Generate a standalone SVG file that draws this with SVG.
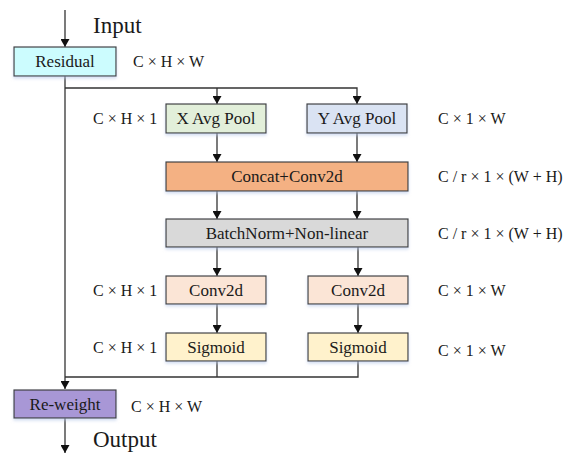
<svg xmlns="http://www.w3.org/2000/svg" width="568" height="454" viewBox="0 0 568 454">
<style>
.box{stroke:#404040;stroke-width:1.2}
.t{font-family:'Liberation Serif','Tinos','DejaVu Serif',serif;font-size:17px;fill:#1a1a1a;text-anchor:middle}
.l{font-family:'Liberation Serif','Tinos','DejaVu Serif',serif;font-size:16px;fill:#1a1a1a}
.big{font-family:'Liberation Serif','Tinos','DejaVu Serif',serif;font-size:23px;fill:#1a1a1a}
.c{stroke:#333;stroke-width:1.3;fill:none}
</style>
<defs>
<marker id="ah" markerWidth="8" markerHeight="9" refX="8" refY="4.5" orient="auto" markerUnits="userSpaceOnUse">
<path d="M0,0 L8,4.5 L0,9 Z" fill="#111"/>
</marker>
<filter id="sh" x="-10%" y="-10%" width="120%" height="140%">
<feDropShadow dx="0" dy="2" stdDeviation="1.5" flood-color="#b8c8e8" flood-opacity="0.6"/>
</filter>
</defs>
<g id="connectors">
<line class="c" x1="65" y1="10" x2="65" y2="47" marker-end="url(#ah)"/>
<line class="c" x1="65" y1="76" x2="65" y2="389" marker-end="url(#ah)"/>
<polyline class="c" points="65,88 357,88 357,104" marker-end="url(#ah)"/>
<line class="c" x1="217" y1="88" x2="217" y2="104" marker-end="url(#ah)"/>
<line class="c" x1="217" y1="133" x2="217" y2="162" marker-end="url(#ah)"/>
<line class="c" x1="357" y1="133" x2="357" y2="162" marker-end="url(#ah)"/>
<line class="c" x1="217" y1="191" x2="217" y2="219" marker-end="url(#ah)"/>
<line class="c" x1="357" y1="191" x2="357" y2="219" marker-end="url(#ah)"/>
<line class="c" x1="217" y1="247" x2="217" y2="276" marker-end="url(#ah)"/>
<line class="c" x1="358" y1="247" x2="358" y2="276" marker-end="url(#ah)"/>
<line class="c" x1="217" y1="304" x2="217" y2="333" marker-end="url(#ah)"/>
<line class="c" x1="358" y1="304" x2="358" y2="333" marker-end="url(#ah)"/>
<polyline class="c" points="217,361 217,377"/>
<polyline class="c" points="358,361 358,377 65,377"/>
<line class="c" x1="65" y1="418" x2="65" y2="453" marker-end="url(#ah)"/>
</g>
<g id="residual">
<rect class="box" x="14" y="47" width="102" height="29" fill="#ccfcfe" filter="url(#sh)"/>
<text class="t" x="65" y="67">Residual</text>
</g>
<g id="xpool">
<rect class="box" x="166" y="104" width="100" height="29" fill="#e2efda" filter="url(#sh)"/>
<text class="t" x="216" y="124">X Avg Pool</text>
</g>
<g id="ypool">
<rect class="box" x="307" y="104" width="100" height="29" fill="#dae3f3" filter="url(#sh)"/>
<text class="t" x="357" y="124">Y Avg Pool</text>
</g>
<g id="concat">
<rect class="box" x="166" y="162" width="242" height="29" fill="#f4b183" filter="url(#sh)"/>
<text class="t" x="287" y="182">Concat+Conv2d</text>
</g>
<g id="batchnorm">
<rect class="box" x="166" y="219" width="242" height="28" fill="#d9d9d9" filter="url(#sh)"/>
<text class="t" x="287" y="239">BatchNorm+Non-linear</text>
</g>
<g id="conv2d-left">
<rect class="box" x="166" y="276" width="100" height="28" fill="#fbe5d6" filter="url(#sh)"/>
<text class="t" x="216" y="296">Conv2d</text>
</g>
<g id="conv2d-right">
<rect class="box" x="308" y="276" width="100" height="28" fill="#fbe5d6" filter="url(#sh)"/>
<text class="t" x="358" y="296">Conv2d</text>
</g>
<g id="sigmoid-left">
<rect class="box" x="166" y="333" width="100" height="28" fill="#fff2cc" filter="url(#sh)"/>
<text class="t" x="216" y="353">Sigmoid</text>
</g>
<g id="sigmoid-right">
<rect class="box" x="308" y="333" width="100" height="28" fill="#fff2cc" filter="url(#sh)"/>
<text class="t" x="358" y="353">Sigmoid</text>
</g>
<g id="reweight">
<rect class="box" x="14" y="390" width="102" height="28" fill="#a897d6" filter="url(#sh)"/>
<text class="t" x="65" y="410">Re-weight</text>
</g>
<g id="labels">
<text class="big" x="93" y="33">Input</text>
<text class="big" x="93" y="447">Output</text>
<text class="l" x="133" y="67">C × H × W</text>
<text class="l" x="131" y="412">C × H × W</text>
<text class="l" x="93" y="124">C × H × 1</text>
<text class="l" x="438" y="124">C × 1 × W</text>
<text class="l" x="438" y="182">C / r × 1 × (W + H)</text>
<text class="l" x="438" y="239">C / r × 1 × (W + H)</text>
<text class="l" x="93" y="296">C × H × 1</text>
<text class="l" x="438" y="296">C × 1 × W</text>
<text class="l" x="93" y="353">C × H × 1</text>
<text class="l" x="438" y="356">C × 1 × W</text>
</g>
</svg>
